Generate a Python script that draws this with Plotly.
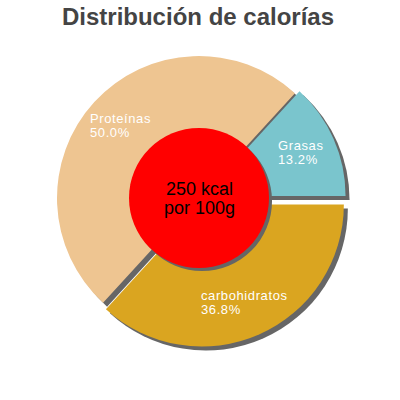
import math

import plotly.graph_objects as go

# data
labels = ["Grasas", "carbohidratos", "Proteínas"]
values = [13.2, 36.8, 50.0]
pct_labels = ["13.2%", "36.8%", "50.0%"]
colors = ["#7AC5CD", "#DAA520", "#EEC591"]
pulls = [0.035, 0.05, 0.0]
center_text = ["250 kcal", "por 100g"]
title_text = "Distribución de calorías"

W, H = 400, 400
CX, CY = 199, 198          # pie centre in pixels
R = 142                    # pie radius in pixels
HOLE_R = 70                # red disc radius
ROTATION = 42.5            # first slice starts 42.5 deg clockwise of 12 o'clock
SHADOW = "#666666"
FONT = "Arial"


def xp(px):
    return px / W


def yp(py):
    return 1 - py / H


def dom(cx, cy, half):
    return dict(x=[xp(cx - half), xp(cx + half)], y=[yp(cy + half), yp(cy - half)])


half = R * (1 + max(pulls))

fig = go.Figure()

# drop shadow of the pie
fig.add_trace(go.Pie(
    labels=labels, values=values, sort=False, direction="clockwise",
    rotation=ROTATION, pull=pulls, domain=dom(CX + 4, CY + 4, half),
    marker=dict(colors=[SHADOW] * len(values), line=dict(width=0)),
    textinfo="none", hoverinfo="skip", showlegend=False,
))
fig.add_trace(go.Pie(
    labels=labels, values=values, sort=False, direction="clockwise",
    rotation=ROTATION, pull=pulls, domain=dom(CX, CY, half),
    marker=dict(colors=colors, line=dict(width=0)),
    textinfo="none", showlegend=False,
))
# red centre disc with its shadow
fig.add_trace(go.Pie(
    values=[1], sort=False, domain=dom(CX + 3, CY + 3, HOLE_R),
    marker=dict(colors=[SHADOW], line=dict(width=0)),
    textinfo="none", hoverinfo="skip", showlegend=False,
))
fig.add_trace(go.Pie(
    values=[1], sort=False, domain=dom(CX, CY, HOLE_R),
    marker=dict(colors=["#FF0000"], line=dict(width=0)),
    textinfo="none", hoverinfo="skip", showlegend=False,
))

# slice labels on each slice's bisector
total = sum(values)
start = 90 - ROTATION
cum = 0.0
annotations = []
span = "<span style='font-size:13px;letter-spacing:0.6px'>{}</span>"
for lab, pct, v, p in zip(labels, pct_labels, values, pulls):
    mid = math.radians(start - 360 * (cum + v / 2) / total)
    cum += v
    rr = 107 + p * R
    px = CX + rr * math.cos(mid)
    py = CY - rr * math.sin(mid)
    annotations.append(dict(
        x=xp(px), y=yp(py), xref="paper", yref="paper",
        xanchor="center", yanchor="middle", align="left", showarrow=False,
        text=span.format(lab) + "<br>" + span.format(pct),
        font=dict(family=FONT, size=11, color="white"),
    ))

annotations.append(dict(
    x=xp(CX), y=yp(CY), xref="paper", yref="paper",
    xanchor="center", yanchor="middle", align="center", showarrow=False,
    text="<br>".join(f"<span style='font-size:18px'>{t}</span>" for t in center_text),
    font=dict(family=FONT, size=14.6, color="black"),
))

fig.update_layout(
    width=W, height=H,
    margin=dict(l=0, r=0, t=0, b=0),
    paper_bgcolor="white", plot_bgcolor="white",
    title=dict(text=f"<b>{title_text}</b>", x=xp(198), xanchor="center",
               y=yp(17), yanchor="middle", yref="container",
               font=dict(family=FONT, size=24, color="#444444")),
    annotations=annotations,
)

# drop the page's default 8px body margin so the figure sits at the corner
fig.write_html("out.html", config={"displayModeBar": False},
               post_script="document.body.style.margin = '0';")
